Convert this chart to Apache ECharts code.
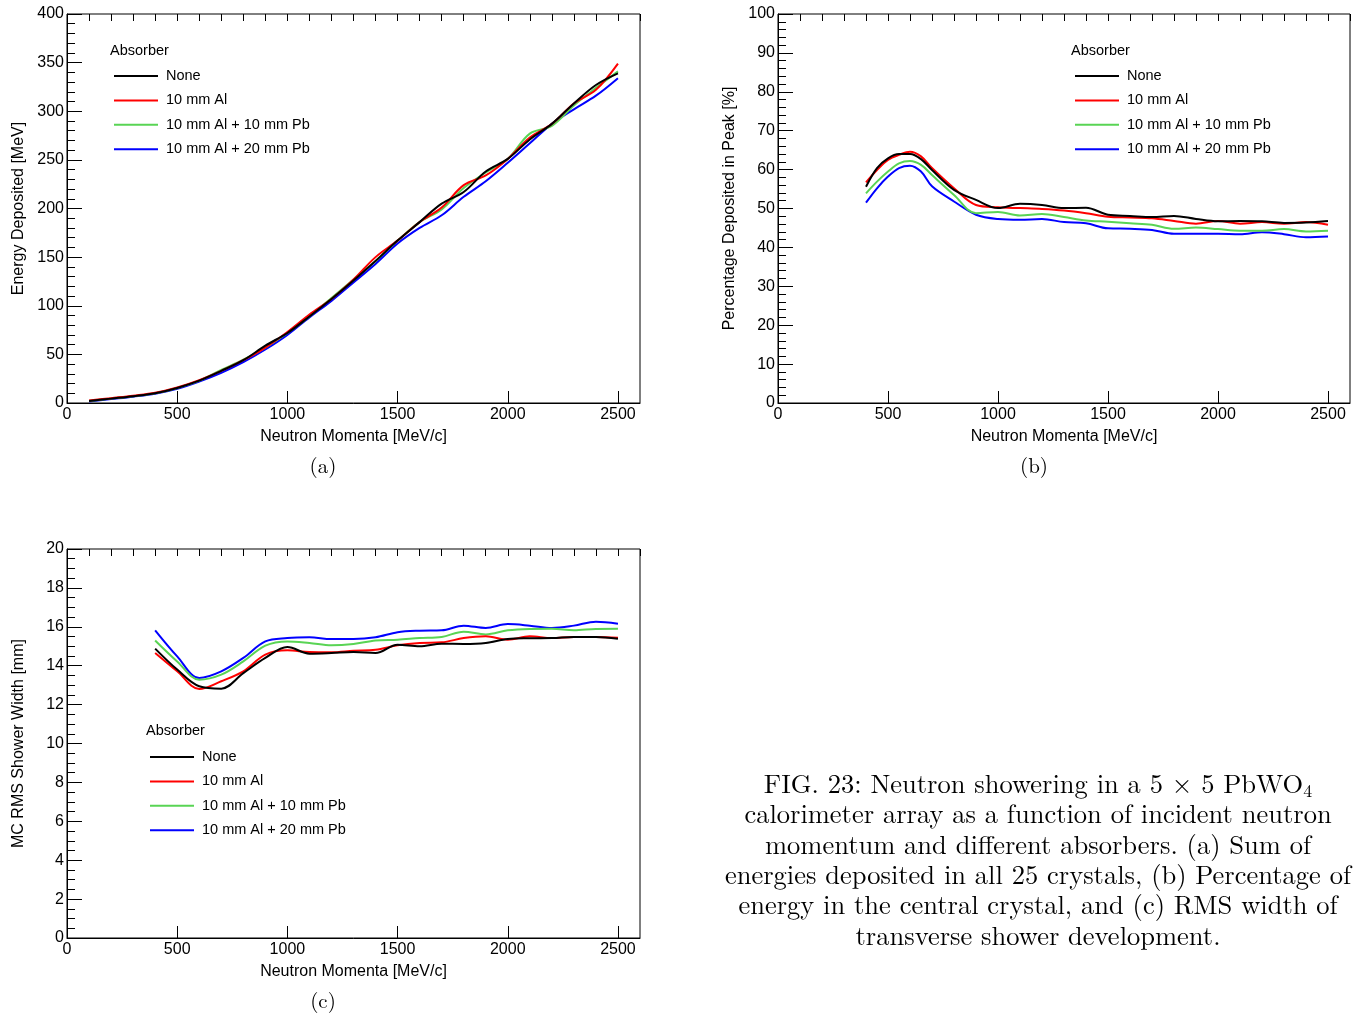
<!DOCTYPE html>
<html><head><meta charset="utf-8">
<script src="https://cdn.jsdelivr.net/npm/echarts@6/dist/echarts.min.js"></script>
<style>html,body{margin:0;padding:0;background:#fff}#c{width:1360px;height:1017px}</style>
</head><body><div id="c"></div>
<script>
const names = ['None', '10 mm Al', '10 mm Al + 10 mm Pb', '10 mm Al + 20 mm Pb'];
const colors = ['#000000', '#ff0000', '#59d454', '#0000ff'];

// (a) Energy deposited [MeV]
const xA = [100,200,300,400,500,600,700,800,900,1000,1100,1200,1300,1400,1500,1600,1700,1800,1900,2000,2100,2200,2300,2400,2500];
const aNone  = [2,4.5,7,10,15.5,23,33,44,59,72,89,107,126,146,167,186,205,217,238,251,271,287,308,327,339];
const aAl    = [2.5,5,7.5,10.5,16,23.5,33,44,57,73,91,107,127,150,167,186,201,224,234,251,273,287,308,322,349];
const aAlPb10= [2,4.5,7,10,15.5,23,34,44.5,57,72,89,108,127,146,167,186,199,221,237,251,277,285,306,324,341];
const aAlPb20= [1.5,4,6.5,9.5,14.5,22,31,42,55,70,88,105,124,143,164,180,193,212,228,247,267,287,302,316,334];

// (b) Percentage deposited in peak [%]
const xB = [400,450,500,550,600,650,700,800,900,1000,1100,1200,1300,1400,1500,1600,1700,1800,1900,2000,2100,2200,2300,2400,2500];
const bNone  = [55.6,60.4,62.9,64.0,64.0,62.7,59.9,54.8,52.2,50.1,51.2,50.9,50.1,50.2,48.4,48.1,47.8,48.1,47.3,46.7,46.8,46.7,46.3,46.4,46.8];
const bAl    = [56.7,59.9,62.5,63.8,64.6,63.4,60.4,55.2,50.9,50.3,50.1,49.9,49.5,48.8,47.9,47.7,47.5,46.8,46.1,46.8,46.1,46.5,46.1,46.5,45.8];
const bAlPb10= [53.9,56.9,59.5,61.6,62.2,61.2,58.6,53.5,48.8,49.1,48.2,48.6,47.8,46.9,46.6,46.2,45.8,44.8,45.1,44.7,44.3,44.3,44.7,44.1,44.3];
const bAlPb20= [51.5,55.2,58.2,60.4,61.0,59.5,55.7,51.8,48.4,47.3,47.1,47.3,46.5,46.2,44.9,44.8,44.5,43.5,43.5,43.5,43.4,43.9,43.4,42.6,42.8];

// (c) MC RMS shower width [mm]
const xC = [400,500,600,700,800,900,1000,1100,1200,1300,1400,1500,1600,1700,1800,1900,2000,2100,2200,2300,2400,2500];
const cNone  = [14.88,13.80,12.94,12.82,13.62,14.40,14.96,14.62,14.65,14.70,14.65,15.08,15.00,15.13,15.12,15.17,15.37,15.41,15.42,15.48,15.48,15.39];
const cAl    = [14.65,13.71,12.80,13.20,13.71,14.57,14.79,14.70,14.69,14.77,14.82,15.05,15.17,15.20,15.42,15.51,15.34,15.51,15.42,15.48,15.48,15.44];
const cAlPb10= [15.30,14.22,13.28,13.54,14.22,15.03,15.25,15.17,15.05,15.12,15.30,15.34,15.42,15.48,15.75,15.61,15.82,15.89,15.90,15.82,15.89,15.90];
const cAlPb20= [15.82,14.48,13.37,13.71,14.40,15.25,15.42,15.46,15.37,15.37,15.46,15.72,15.80,15.82,16.06,15.94,16.14,16.06,15.94,16.06,16.26,16.16];

const xTitle = 'Neutron Momenta [MeV/c]';
const yTitles = ['Energy Deposited [MeV]', 'Percentage Deposited in Peak [%]', 'MC RMS Shower Width [mm]'];
const captionLines = [
  'calorimeter array as a function of incident neutron',
  'momentum and different absorbers. (a) Sum of',
  'energies deposited in all 25 crystals, (b) Percentage of',
  'energy in the central crystal, and (c) RMS width of',
  'transverse shower development.'
];

const SANS = '"Liberation Sans", Arial, Helvetica, sans-serif';
const SERIF = '"Latin Modern Roman", "CMU Serif", "Liberation Serif", "DejaVu Serif", serif';

const chart = echarts.init(document.getElementById('c'), null, {renderer: 'canvas'});

const grids = [
  {left: 67, top: 14, width: 573, height: 389},
  {left: 778, top: 14, width: 572, height: 389},
  {left: 67, top: 549, width: 573, height: 389}
].map(g => Object.assign({show: true, borderColor: '#000', borderWidth: 1, backgroundColor: 'transparent'}, g));

const plain = v => String(v);

const xAxes = [];
grids.forEach((g, i) => {
  xAxes.push({
    type: 'value', gridIndex: i, min: 0, max: 2600, interval: 500,
    name: xTitle, nameLocation: 'middle', nameGap: 26,
    nameTextStyle: {fontFamily: SANS, fontSize: 16, color: '#000'},
    axisLine: {show: true, lineStyle: {color: '#000', width: 1}},
    axisTick: {show: true, inside: true, length: 12, lineStyle: {color: '#000'}},
    axisLabel: {show: true, fontFamily: SANS, fontSize: 16, color: '#000', margin: 4, showMaxLabel: false, formatter: plain},
    splitLine: {show: false}
  });
  xAxes.push({
    type: 'value', gridIndex: i, min: 0, max: 2600, interval: 100,
    axisLine: {show: false},
    axisTick: {show: true, inside: true, length: 7, lineStyle: {color: '#000'}},
    axisLabel: {show: false}, splitLine: {show: false}
  });
});

const yCfg = [
  {max: 400, interval: 50, minor: 5},
  {max: 100, interval: 10, minor: 5},
  {max: 20, interval: 2, minor: 4}
];
const yAxes = yCfg.map((c, i) => ({
  type: 'value', gridIndex: i, min: 0, max: c.max, interval: c.interval,
  name: yTitles[i], nameLocation: 'middle', nameGap: 40,
  nameTextStyle: {fontFamily: SANS, fontSize: 16, color: '#000'},
  axisLine: {show: true, lineStyle: {color: '#000', width: 1}},
  axisTick: {show: true, inside: true, length: 15, lineStyle: {color: '#000'}},
  minorTick: {show: true, splitNumber: c.minor, length: 8, lineStyle: {color: '#000'}},
  axisLabel: {show: true, fontFamily: SANS, fontSize: 16, color: '#000', margin: 3, formatter: plain},
  splitLine: {show: false}, minorSplitLine: {show: false}
}));

const panels = [
  {x: xA, ys: [aNone, aAl, aAlPb10, aAlPb20], xi: 0, yi: 0},
  {x: xB, ys: [bNone, bAl, bAlPb10, bAlPb20], xi: 2, yi: 1},
  {x: xC, ys: [cNone, cAl, cAlPb10, cAlPb20], xi: 4, yi: 2}
];
const series = [];
panels.forEach(p => {
  p.ys.forEach((ys, k) => {
    series.push({
      type: 'line', name: names[k], xAxisIndex: p.xi, yAxisIndex: p.yi,
      data: p.x.map((xv, j) => [xv, ys[j]]),
      smooth: 0.35, symbol: 'none', showSymbol: false,
      lineStyle: {color: colors[k], width: 2}, itemStyle: {color: colors[k]},
      z: 10 - k, silent: true, animation: false
    });
  });
});

const legendPos = [[109, 63], [1070, 63], [145, 744]];
const legends = legendPos.map(p => ({
  data: names, orient: 'vertical', left: p[0], top: p[1],
  icon: 'rect', itemWidth: 44, itemHeight: 2, itemGap: 8.4,
  textStyle: {fontFamily: SANS, fontSize: 14.5, color: '#000', lineHeight: 16, padding: [0, 0, 0, 3]},
  selectedMode: false
}));

const graphics = [];
[[110, 51], [1071, 51], [146, 731]].forEach(p => {
  graphics.push({type: 'text', x: p[0], y: p[1], style: {text: 'Absorber', font: '14.5px ' + SANS, fill: '#000', textAlign: 'left', textVerticalAlign: 'middle'}});
});
[['(a)', 323, 467], ['(b)', 1034, 467], ['(c)', 323, 1002]].forEach(t => {
  graphics.push({type: 'text', x: t[1], y: t[2], style: {text: t[0], font: '21px ' + SERIF, fill: '#000', textAlign: 'center', textVerticalAlign: 'middle'}});
});
graphics.push({
  type: 'text', x: 1038, y: 785,
  style: {
    text: '{m|FIG. 23: Neutron showering in a 5 × 5 PbWO}{s|4}',
    rich: {
      m: {font: '26.5px ' + SERIF, fill: '#000'},
      s: {font: '18px ' + SERIF, fill: '#000', padding: [12, 0, 0, 0]}
    },
    textAlign: 'center', textVerticalAlign: 'middle'
  }
});
captionLines.forEach((line, i) => {
  graphics.push({type: 'text', x: 1038, y: 815 + i * 30.4, style: {text: line, font: '26.5px ' + SERIF, fill: '#000', textAlign: 'center', textVerticalAlign: 'middle'}});
});

chart.setOption({
  backgroundColor: '#ffffff',
  animation: false,
  grid: grids,
  xAxis: xAxes,
  yAxis: yAxes,
  legend: legends,
  series: series,
  graphic: graphics
});
</script>
</body></html>
